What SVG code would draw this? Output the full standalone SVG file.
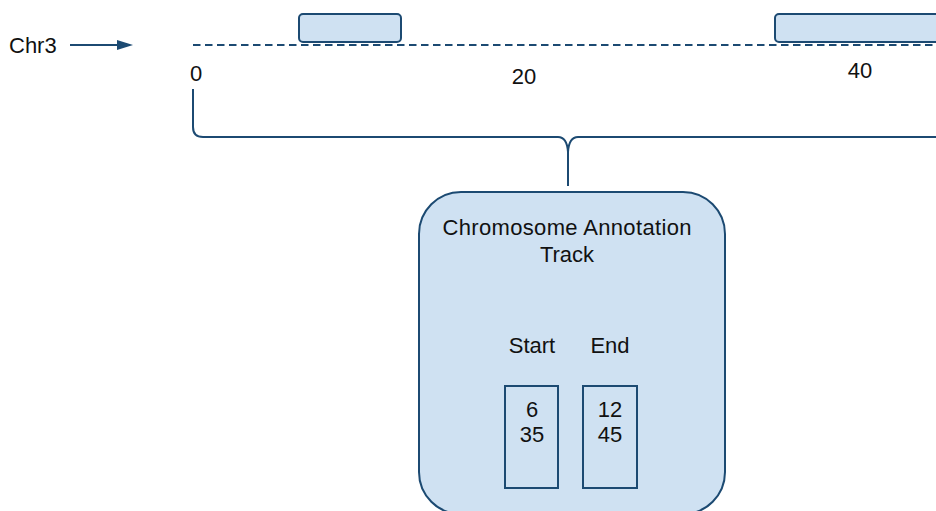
<svg xmlns="http://www.w3.org/2000/svg" width="936" height="511" viewBox="0 0 936 511">
<style>
text{font-family:"Liberation Sans",Arial,sans-serif;font-size:22px;fill:#111}
.s{stroke:#1c4a72;stroke-width:2;fill:none}
.b{fill:#cfe1f2;stroke:#1c4a72;stroke-width:2}
</style>
<rect width="936" height="511" fill="#fff"/>
<g id="chr3-label">
<text x="9" y="53">Chr3</text>
</g>
<g id="connectors">
<line class="s" x1="70" y1="45" x2="120" y2="45"/>
<polygon points="117,40 133,45 117,50" fill="#1c4a72"/>
<path class="s" d="M193,89 L193,127 Q193,137 203,137 L558,137 Q567,137 568,152 L568,186 M568,152 Q569,137 578,137 L936,137"/>
</g>
<g id="chromosome-line">
<line x1="193" y1="45" x2="936" y2="45" stroke="#1c4a72" stroke-width="2.2" stroke-dasharray="7.5,4.5"/>
</g>
<g id="feature1">
<rect class="b" x="299" y="14" width="102" height="28" rx="4"/>
</g>
<g id="feature2">
<rect class="b" x="775" y="14" width="175" height="28" rx="4"/>
</g>
<g id="ticks">
<text x="196" y="81" text-anchor="middle">0</text>
<text x="524" y="84" text-anchor="middle">20</text>
<text x="860" y="78" text-anchor="middle">40</text>
</g>
<g id="track">
<rect class="b" x="419" y="192" width="306" height="322" rx="42"/>
<text x="567" y="235" text-anchor="middle" textLength="249">Chromosome Annotation</text>
<text x="567" y="262" text-anchor="middle">Track</text>
<text x="532" y="353" text-anchor="middle">Start</text>
<text x="610" y="353" text-anchor="middle">End</text>
</g>
<g id="start-column">
<rect class="b" x="505" y="386" width="53" height="102"/>
<text x="532" y="417" text-anchor="middle">6</text>
<text x="532" y="442" text-anchor="middle">35</text>
</g>
<g id="end-column">
<rect class="b" x="583" y="386" width="54" height="102"/>
<text x="610" y="417" text-anchor="middle">12</text>
<text x="610" y="442" text-anchor="middle">45</text>
</g>
</svg>
